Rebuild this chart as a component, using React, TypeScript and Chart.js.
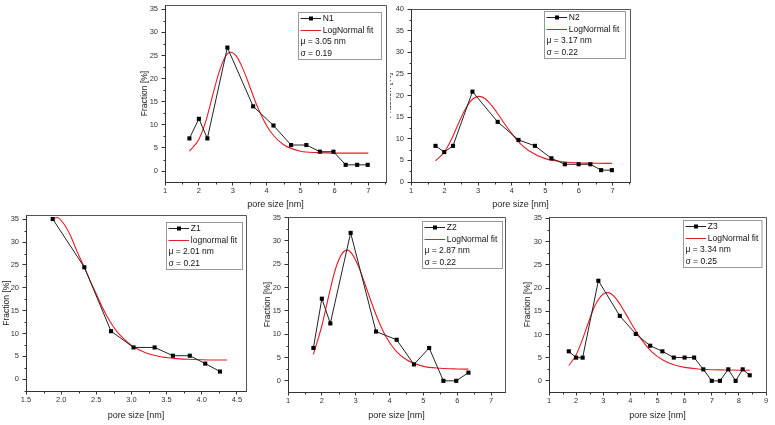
import React, { useEffect, useRef } from 'react';
import { Chart, registerables } from 'chart.js';

Chart.register(...registerables);

const FONT = "'Liberation Sans', Arial, sans-serif";
const RED = 'rgb(228,28,40)';
const INK = '#222';

// ---------- N1 ----------
const n1X = [1.72, 2.0, 2.25, 2.84, 3.6, 4.2, 4.72, 5.17, 5.57, 5.97, 6.33, 6.67, 6.98];
const n1Y = [7.07, 11.3, 7.07, 26.7, 14.0, 9.86, 5.64, 5.64, 4.2, 4.2, 1.36, 1.36, 1.36];
const n1FitX = [1.72, 2.0, 2.2, 2.4, 2.6, 2.8, 2.94, 3.1, 3.3, 3.5, 3.7, 4.0, 4.2, 4.5, 5.0, 5.5, 6.0, 6.5, 7.0];
const n1FitY = [4.3, 6.9, 10.7, 16.2, 21.5, 25.0, 25.7, 24.9, 22.1, 18.3, 14.4, 9.8, 7.7, 5.7, 4.3, 4.0, 3.9, 3.9, 3.9];

// ---------- N2 ----------
const n2X = [1.73, 1.99, 2.25, 2.83, 3.58, 4.2, 4.69, 5.18, 5.58, 5.99, 6.34, 6.66, 6.98];
const n2Y = [8.36, 6.92, 8.36, 20.9, 13.9, 9.73, 8.36, 5.48, 4.1, 4.1, 4.1, 2.74, 2.74];
const n2FitX = [1.73, 2.0, 2.2, 2.4, 2.6, 2.8, 3.02, 3.2, 3.4, 3.6, 3.8, 4.0, 4.2, 4.5, 5.0, 5.5, 6.0, 6.5, 6.98];
const n2FitY = [4.9, 7.0, 9.8, 13.3, 16.6, 18.9, 19.8, 19.3, 17.7, 15.6, 13.3, 11.2, 9.3, 7.3, 5.4, 4.7, 4.4, 4.35, 4.3];

// ---------- Z1 ----------
const z1X = [1.88, 2.33, 2.71, 3.03, 3.33, 3.59, 3.83, 4.05, 4.26];
const z1Y = [35.07, 24.5, 10.5, 6.94, 6.94, 5.13, 5.13, 3.4, 1.66];
const z1FitX = [1.88, 1.94, 2.03, 2.13, 2.22, 2.33, 2.42, 2.51, 2.6, 2.7, 2.8, 2.9, 3.0, 3.1, 3.2, 3.4, 3.6, 3.8, 4.0, 4.2, 4.36];
const z1FitY = [35.2, 35.4, 34.2, 31.5, 28.2, 24.5, 21.3, 18.3, 15.3, 12.5, 10.3, 8.7, 7.4, 6.5, 5.8, 4.95, 4.55, 4.35, 4.25, 4.2, 4.2];

// ---------- Z2 ----------
const z2X = [1.75, 2.0, 2.25, 2.85, 3.6, 4.21, 4.72, 5.17, 5.59, 5.97, 6.33];
const z2Y = [7.04, 17.6, 12.3, 31.7, 10.56, 8.8, 3.52, 7.04, 0, 0, 1.76];
const z2FitX = [1.75, 2.0, 2.2, 2.4, 2.6, 2.75, 2.9, 3.1, 3.3, 3.5, 3.7, 3.9, 4.2, 4.5, 5.0, 5.5, 6.0, 6.33];
const z2FitY = [5.7, 11.8, 18.1, 23.9, 27.3, 28.0, 27.1, 24.2, 20.2, 16.1, 12.4, 9.4, 6.3, 4.5, 3.1, 2.7, 2.55, 2.5];

// ---------- Z3 ----------
const z3X = [1.73, 2.0, 2.24, 2.82, 3.61, 4.2, 4.73, 5.18, 5.6, 6.0, 6.35, 6.69, 7.0, 7.3, 7.61, 7.88, 8.14, 8.4];
const z3Y = [6.36, 5.0, 5.0, 21.57, 14.0, 10.1, 7.57, 6.36, 5.02, 5.02, 5.02, 2.48, 0, 0, 2.48, 0, 2.48, 1.2];
const z3FitX = [1.73, 2.0, 2.2, 2.4, 2.6, 2.8, 3.0, 3.15, 3.3, 3.5, 3.8, 4.1, 4.4, 4.8, 5.2, 5.6, 6.0, 6.5, 7.0, 7.5, 8.0, 8.4];
const z3FitY = [3.3, 5.6, 8.4, 11.7, 14.9, 17.35, 18.7, 19.0, 18.7, 17.5, 14.75, 11.7, 9.0, 6.2, 4.5, 3.45, 2.9, 2.55, 2.4, 2.35, 2.3, 2.3];

// ---------- ticks ----------
const xTicksN = [1, 2, 3, 4, 5, 6, 7];
const xTicksZ1 = [1.5, 2.0, 2.5, 3.0, 3.5, 4.0, 4.5];
const xTicksZ3 = [1, 2, 3, 4, 5, 6, 7, 8, 9];
const yTicks35 = [0, 5, 10, 15, 20, 25, 30, 35];
const yTicks40 = [0, 5, 10, 15, 20, 25, 30, 35, 40];

const X_TITLE = 'pore size [nm]';
const Y_TITLE = 'Fraction [%]';

type Panel = {
  name: string; fitName: string; mu: string; sigma: string;
  x: number[]; y: number[]; fx: number[]; fy: number[];
  xMin: number; xMax: number; yMin: number; yMax: number;
  xTicks: number[]; yTicks: number[]; xDec: number; xMinor: number; yMinor: number;
  L: number; T: number; R: number; B: number; yTitleX: number; xTitleY: number;
  legW: number; legTop: number; legRight: number; clipLeft?: number;
};

const panels: Panel[] = [
  { name: 'N1', fitName: 'LogNormal fit', mu: '3.05', sigma: '0.19', x: n1X, y: n1Y, fx: n1FitX, fy: n1FitY,
    xMin: 1, xMax: 7.52, yMin: -2.35, yMax: 35.9, xTicks: xTicksN, yTicks: yTicks35, xDec: 0, xMinor: 0.5, yMinor: 2.5,
    L: 165, T: 3, R: 386, B: 182, yTitleX: 145, xTitleY: 205, legW: 83, legTop: 7, legRight: 5 },
  { name: 'N2', fitName: 'LogNormal fit', mu: '3.17', sigma: '0.22', x: n2X, y: n2Y, fx: n2FitX, fy: n2FitY,
    xMin: 1, xMax: 7.52, yMin: 0, yMax: 40, xTicks: xTicksN, yTicks: yTicks40, xDec: 0, xMinor: 0.5, yMinor: 2.5,
    L: 411, T: 7, R: 630, B: 182, yTitleX: 389.5, xTitleY: 205, legW: 81, legTop: 2.3, legRight: 5, clipLeft: 390 },
  { name: 'Z1', fitName: 'lognormal fit', mu: '2.01', sigma: '0.21', x: z1X, y: z1Y, fx: z1FitX, fy: z1FitY,
    xMin: 1.5, xMax: 4.63, yMin: -2.6, yMax: 35.95, xTicks: xTicksZ1, yTicks: yTicks35, xDec: 1, xMinor: 0.25, yMinor: 2.5,
    L: 26, T: 213.3, R: 246, B: 391, yTitleX: 7, xTitleY: 415.7, legW: 76, legTop: 6.7, legRight: 4.3 },
  { name: 'Z2', fitName: 'LogNormal fit', mu: '2.87', sigma: '0.22', x: z2X, y: z2Y, fx: z2FitX, fy: z2FitY,
    xMin: 1, xMax: 7.41, yMin: -2.39, yMax: 35.1, xTicks: xTicksN, yTicks: yTicks35, xDec: 0, xMinor: 0.5, yMinor: 2.5,
    L: 288, T: 214.5, R: 505, B: 392, yTitleX: 268, xTitleY: 415.7, legW: 80, legTop: 3.8, legRight: 3.3 },
  { name: 'Z3', fitName: 'LogNormal fit', mu: '3.34', sigma: '0.25', x: z3X, y: z3Y, fx: z3FitX, fy: z3FitY,
    xMin: 1, xMax: 9, yMin: -2.4, yMax: 35.3, xTicks: xTicksZ3, yTicks: yTicks35, xDec: 0, xMinor: 0.5, yMinor: 2.5,
    L: 549, T: 214.5, R: 766, B: 392, yTitleX: 528.5, xTitleY: 415.7, legW: 78.5, legTop: 3.2, legRight: 4.3 },
];

function makePlugin(p: Panel) {
  return {
    id: 'panelDecor' + p.name,
    afterDraw(chart: any) {
      const { ctx, chartArea, scales } = chart;
      const xs = scales.x, ys = scales.y;
      ctx.save();
      // frame (top/right)
      const l = Math.round(chartArea.left) + 0.5;
      const r = Math.round(chartArea.right) + 0.5;
      const t = Math.round(chartArea.top) + 0.5;
      const b = Math.round(chartArea.bottom) + 0.5;
      ctx.strokeStyle = '#555';
      ctx.lineWidth = 1;
      ctx.beginPath();
      ctx.moveTo(l, t); ctx.lineTo(r, t); ctx.lineTo(r, b);
      ctx.stroke();
      // minor ticks
      ctx.strokeStyle = '#333';
      ctx.beginPath();
      for (let v = p.xMin; v <= p.xMax + 1e-9; v += p.xMinor) {
        if (p.xTicks.some((m) => Math.abs(m - v) < 1e-6)) continue;
        const px = Math.round(xs.getPixelForValue(v)) + 0.5;
        ctx.moveTo(px, b); ctx.lineTo(px, b + 2);
      }
      const y0 = Math.ceil(p.yMin / p.yMinor) * p.yMinor;
      for (let v = y0; v <= p.yMax + 1e-9; v += p.yMinor) {
        if (p.yTicks.some((m) => Math.abs(m - v) < 1e-6)) continue;
        const py = Math.round(ys.getPixelForValue(v)) + 0.5;
        ctx.moveTo(l - 2, py); ctx.lineTo(l, py);
      }
      ctx.stroke();
      // legend box
      const bw = p.legW, bh = 47;
      const bx = Math.round(chartArea.right - p.legRight - bw) + 0.5;
      const by = Math.round(chartArea.top + p.legTop) + 0.5;
      ctx.fillStyle = '#fff';
      ctx.fillRect(bx, by, bw, bh);
      ctx.strokeStyle = '#999';
      ctx.strokeRect(bx, by, bw, bh);
      const rows = [5.7, 17.3, 29, 40.7];
      ctx.lineWidth = 1;
      ctx.strokeStyle = INK;
      ctx.beginPath();
      ctx.moveTo(bx + 2, Math.round(by + rows[0]) + 0.5);
      ctx.lineTo(bx + 22.5, Math.round(by + rows[0]) + 0.5);
      ctx.stroke();
      ctx.fillStyle = '#000';
      ctx.fillRect(Math.round(bx + 12.5 - 2), Math.round(by + rows[0]) - 1.5, 4, 4);
      ctx.strokeStyle = RED;
      ctx.beginPath();
      ctx.moveTo(bx + 2, Math.round(by + rows[1]) + 0.5);
      ctx.lineTo(bx + 22.5, Math.round(by + rows[1]) + 0.5);
      ctx.stroke();
      ctx.fillStyle = '#111';
      ctx.font = `8.5px ${FONT}`;
      ctx.textBaseline = 'middle';
      ctx.textAlign = 'left';
      ctx.fillText(p.name, bx + 24.3, by + rows[0] + 0.5);
      ctx.fillText(p.fitName, bx + 24.3, by + rows[1] + 0.5, bw - 26);
      ctx.fillText(`\u03bc = ${p.mu} nm`, bx + 2, by + rows[2] + 0.5);
      ctx.fillText(`\u03c3 = ${p.sigma}`, bx + 2, by + rows[3] + 0.5);
      ctx.restore();
    },
  };
}

function PanelChart({ p }: { p: Panel }) {
  const ref = useRef<HTMLCanvasElement>(null);
  const cLeft = Math.round(p.yTitleX - 5.1);
  const cTop = Math.round(p.T) - 6;
  const padTop = p.T - cTop;
  const yW = p.L - cLeft;
  const xH = p.xTitleY - p.B + 5.4;
  const width = Math.ceil(p.R + 12 - cLeft);
  const height = Math.ceil(p.B - cTop + xH + 1);
  const padRight = width - (p.R - cLeft);
  const padBottom = height - (p.B - cTop) - xH;

  useEffect(() => {
    if (!ref.current) return;
    const chart = new Chart(ref.current, {
      type: 'scatter',
      data: {
        datasets: [
          {
            label: p.name,
            data: p.x.map((v, i) => ({ x: v, y: p.y[i] })),
            showLine: true,
            borderColor: INK,
            borderWidth: 1,
            pointStyle: 'rect',
            pointRadius: 2.9,
            pointBackgroundColor: '#000',
            pointBorderWidth: 0,
            order: 0,
          },
          {
            label: p.fitName,
            data: p.fx.map((v, i) => ({ x: v, y: p.fy[i] })),
            showLine: true,
            borderColor: RED,
            borderWidth: 1.1,
            pointRadius: 0,
            cubicInterpolationMode: 'monotone',
            order: 1,
          },
        ],
      },
      options: {
        responsive: false,
        maintainAspectRatio: false,
        animation: false,
        devicePixelRatio: 1,
        events: [],
        layout: { autoPadding: false, padding: { left: 0, top: padTop, right: padRight, bottom: padBottom } },
        plugins: { legend: { display: false }, tooltip: { enabled: false } },
        scales: {
          x: {
            type: 'linear',
            min: p.xMin,
            max: p.xMax,
            afterBuildTicks: (axis: any) => { axis.ticks = p.xTicks.map((v) => ({ value: v })); },
            afterFit: (axis: any) => { axis.height = xH; },
            grid: { display: true, drawOnChartArea: false, drawTicks: true, tickLength: 3.5, color: '#333', tickColor: '#333' },
            border: { display: true, color: '#333', width: 1 },
            ticks: {
              autoSkip: false, maxRotation: 0, minRotation: 0, padding: 1,
              color: '#333', font: { family: FONT, size: 7.5 },
              callback: (v: any) => Number(v).toFixed(p.xDec),
            },
            title: { display: true, text: X_TITLE, color: '#222', padding: { top: 0, bottom: 0 }, font: { family: FONT, size: 9 } },
          },
          y: {
            type: 'linear',
            min: p.yMin,
            max: p.yMax,
            afterBuildTicks: (axis: any) => { axis.ticks = p.yTicks.map((v) => ({ value: v })); },
            afterFit: (axis: any) => { axis.width = yW; },
            grid: { display: true, drawOnChartArea: false, drawTicks: true, tickLength: 3.5, color: '#333', tickColor: '#333' },
            border: { display: true, color: '#333', width: 1 },
            ticks: {
              autoSkip: false, padding: 3.5,
              color: '#333', font: { family: FONT, size: 7.5 },
              callback: (v: any) => String(v),
            },
            title: { display: true, text: Y_TITLE, color: '#222', padding: { top: 0, bottom: 0 }, font: { family: FONT, size: 8.5 } },
          },
        },
      },
      plugins: [makePlugin(p)],
    } as any);
    return () => chart.destroy();
  }, []);

  const offset = p.clipLeft ?? 0;
  const canvas = (
    <canvas
      ref={ref}
      width={width}
      height={height}
      style={{ position: 'absolute', left: cLeft - offset, top: cTop, width, height }}
    />
  );
  if (p.clipLeft !== undefined) {
    return (
      <div style={{ position: 'absolute', left: p.clipLeft, top: 0, width: 775 - p.clipLeft, height: 425, overflow: 'hidden' }}>
        {canvas}
      </div>
    );
  }
  return canvas;
}

export default function App() {
  return (
    <div style={{ position: 'fixed', left: 0, top: 0, width: 775, height: 425, background: '#fff', overflow: 'hidden' }}>
      {panels.map((p) => (
        <PanelChart key={p.name} p={p} />
      ))}
    </div>
  );
}
